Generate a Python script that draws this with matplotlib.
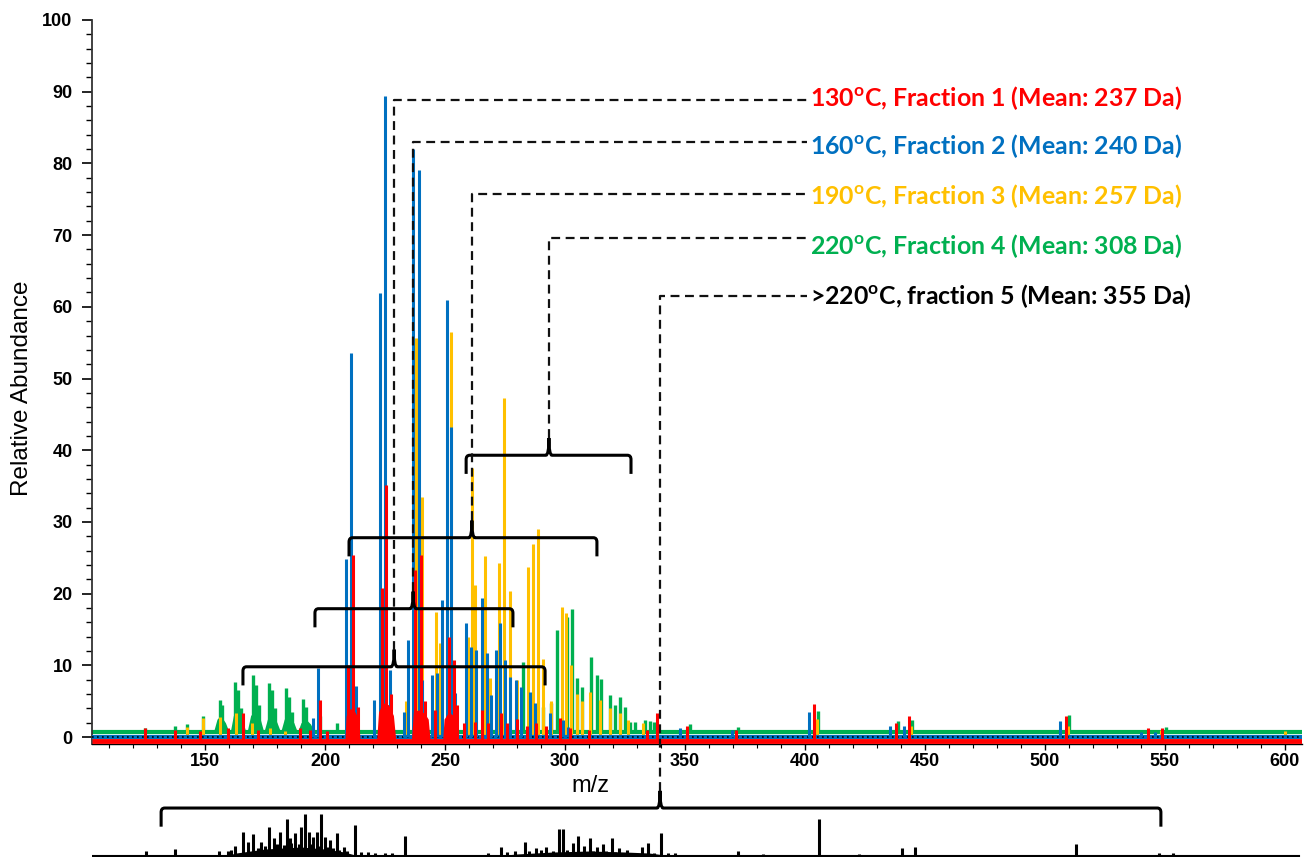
import matplotlib
matplotlib.use("Agg")
import matplotlib.pyplot as plt
from matplotlib.path import Path
from matplotlib.patches import PathPatch
from matplotlib.ticker import MultipleLocator

plt.rcParams['font.family'] = ['Liberation Sans', 'DejaVu Sans']
plt.rcParams['mathtext.fontset'] = 'custom'
plt.rcParams['mathtext.rm'] = 'Lato:bold'
plt.rcParams['mathtext.bf'] = 'Lato:bold'
plt.rcParams['mathtext.it'] = 'Lato:bold'

# ---- spectra (m/z, relative abundance) ----
green_mz = [119.6, 125.0, 137.5, 142.5, 149.2, 156.2, 157.1, 162.5, 163.8, 165.0,
            170.0, 171.2, 172.5, 176.7, 177.9, 179.2, 183.8, 185.0, 186.2, 190.8,
            192.1, 197.9, 205.0, 282.5, 290.8, 294.2, 296.7, 300.8, 302.9, 305.0,
            307.1, 310.8, 313.3, 315.0, 318.8, 320.8, 322.9, 325.0, 327.1, 329.2,
            333.3, 335.4, 337.1, 352.0, 372.0, 405.4, 438.8, 444.6, 510.0, 550.4]
green_h = [1.0, 1.2, 1.5, 1.8, 3.0, 5.2, 4.5, 7.7, 6.5, 4.0,
           8.6, 7.3, 4.5, 7.5, 6.5, 4.0, 6.8, 5.6, 3.5, 5.3,
           4.2, 3.0, 2.0, 10.5, 4.2, 4.7, 14.9, 16.7, 17.8, 8.2,
           7.0, 11.2, 8.6, 8.1, 5.9, 4.5, 5.6, 4.2, 2.1, 2.1,
           2.4, 2.2, 2.1, 1.8, 1.4, 3.6, 2.2, 2.4, 3.1, 1.4]

# broad bases under the low-mass green clusters
green_hump_mz = [[153.5, 155.0, 156.5, 158.5, 160.0],
                 [160.5, 161.8, 163.5, 165.5, 167.0],
                 [167.5, 169.0, 171.0, 173.0, 174.5],
                 [174.5, 176.0, 178.0, 180.0, 181.5],
                 [181.5, 183.0, 185.0, 187.0, 188.5],
                 [188.5, 190.0, 192.0, 194.0, 195.5]]
green_hump_h = [[0.7, 2.5, 3.0, 2.0, 0.7],
                [0.7, 3.0, 4.0, 2.5, 0.7],
                [0.7, 3.0, 3.8, 2.5, 0.7],
                [0.7, 2.5, 3.5, 2.0, 0.7],
                [0.7, 2.5, 3.0, 2.0, 0.7],
                [0.7, 2.0, 2.5, 1.8, 0.7]]

yellow_mz = [142.5, 149.2, 156.2, 162.9, 169.6, 177.0, 183.3, 233.6, 237.9, 240.4,
             246.2, 247.9, 252.4, 259.6, 261.1, 262.5, 266.7, 268.8, 272.5, 274.6,
             277.1, 280.0, 284.6, 286.7, 288.8, 290.8, 294.0, 298.8, 300.4, 302.5,
             305.0, 307.0, 310.4, 314.6, 318.8, 322.9, 326.2, 332.5, 351.0, 405.0,
             444.0, 509.5, 548.5, 600.0]
yellow_h = [1.4, 2.6, 2.8, 3.3, 2.0, 1.2, 0.9, 5.0, 55.6, 33.5,
            17.4, 13.1, 56.5, 14.0, 37.5, 21.2, 25.2, 8.2, 24.3, 47.3,
            20.4, 8.0, 23.7, 26.9, 29.0, 10.9, 5.0, 18.1, 17.3, 10.0,
            6.0, 5.0, 6.3, 5.2, 4.0, 3.3, 2.4, 2.0, 1.2, 2.5,
            1.5, 1.5, 1.0, 0.8]

blue_mz = [195.0, 197.1, 208.8, 210.8, 212.9, 220.4, 222.9, 225.0, 227.1, 232.9,
           234.6, 236.7, 239.2, 240.4, 244.6, 246.7, 248.8, 250.8, 252.5, 254.2,
           258.8, 260.8, 262.9, 265.4, 267.5, 269.2, 271.2, 272.9, 275.0, 277.1,
           279.6, 281.7, 285.4, 287.5, 293.8, 299.2, 301.2, 347.9, 369.6, 401.5,
           435.4, 441.3, 506.2, 540.0, 545.8]
blue_h = [2.6, 9.6, 24.8, 53.6, 7.1, 5.2, 61.9, 89.4, 9.3, 3.5,
          13.5, 82.0, 79.1, 8.0, 8.6, 8.9, 19.1, 61.0, 43.2, 6.1,
          15.9, 12.6, 12.1, 19.4, 11.7, 5.9, 12.1, 15.9, 10.7, 8.4,
          8.0, 7.0, 6.3, 4.7, 3.3, 2.4, 1.4, 1.2, 1.0, 3.5,
          1.5, 1.5, 2.3, 0.7, 0.7]

red_mz = [125.0, 137.5, 148.0, 159.6, 165.8, 172.0, 189.6, 193.8, 197.9, 200.8,
          209.6, 211.7, 213.8, 223.8, 225.4, 227.5, 237.5, 239.9, 241.5, 246.0,
          251.7, 253.8, 255.0, 258.0, 262.5, 265.4, 268.0, 273.3, 276.0, 280.0,
          284.0, 288.0, 292.0, 297.9, 302.0, 310.0, 334.0, 338.3, 350.8, 371.2,
          403.8, 437.9, 443.3, 508.8, 542.9, 548.8]
red_h = [1.2, 1.0, 0.8, 1.2, 3.3, 1.0, 1.3, 1.0, 5.2, 0.8,
         10.0, 25.4, 4.2, 20.8, 35.1, 6.0, 23.3, 25.4, 5.0, 3.8,
         14.0, 10.7, 4.5, 2.0, 2.1, 3.8, 2.0, 3.3, 2.0, 2.5,
         1.5, 2.0, 1.5, 2.6, 1.2, 1.0, 1.0, 3.3, 1.5, 1.0,
         4.6, 2.0, 3.0, 3.0, 1.2, 1.2]

# broad unresolved humps under the red clusters
red_hump_mz = [[208.3, 208.8, 210.5, 212.5, 214.0, 214.6],
               [221.5, 222.3, 224.0, 226.5, 228.5, 229.5],
               [236.0, 236.8, 239.0, 241.5, 243.0, 243.8],
               [249.0, 249.6, 251.5, 253.5, 255.0, 255.6]]
red_hump_h = [[-0.5, 3.0, 4.0, 3.5, 2.5, -0.5],
              [-0.5, 3.5, 4.8, 4.5, 3.0, -0.5],
              [-0.5, 3.5, 3.8, 3.3, 2.5, -0.5],
              [-0.5, 2.5, 3.5, 3.0, 2.0, -0.5]]

# fraction 5, plotted underneath
black_mz = [125.4, 137.5, 155.8, 159.6, 160.8, 162.5, 165.8, 167.9, 170.0, 172.0,
            173.3, 175.0, 176.7, 178.8, 180.0, 181.2, 183.0, 184.2, 185.4, 186.0,
            187.5, 189.0, 190.0, 191.7, 193.3, 194.5, 195.0, 196.7, 197.5, 198.3,
            200.0, 201.0, 202.1, 203.5, 205.0, 206.0, 207.9, 209.0, 212.5, 215.0,
            218.0, 221.0, 225.0, 228.0, 233.3, 238.3, 267.9, 273.3, 276.0, 279.0,
            283.3, 285.0, 287.9, 290.0, 292.1, 295.0, 297.5, 299.2, 301.0, 303.3,
            305.4, 307.9, 310.4, 311.5, 313.3, 315.8, 317.0, 319.6, 321.0, 322.5,
            325.8, 328.0, 332.1, 334.6, 337.0, 340.0, 343.0, 346.0, 372.1, 382.5,
            405.8, 422.5, 440.4, 445.8, 512.9, 547.5, 553.3]
black_h = [5.0, 6.7, 5.0, 5.0, 6.0, 10.0, 23.7, 14.0, 22.0, 8.0,
           14.0, 10.0, 29.3, 17.7, 12.0, 24.3, 11.0, 36.7, 17.7, 13.0,
           23.3, 12.0, 29.3, 41.7, 24.3, 12.0, 19.3, 24.3, 10.0, 41.7,
           19.3, 9.0, 16.0, 8.0, 23.3, 6.0, 9.3, 5.0, 31.0, 4.0,
           4.0, 3.0, 3.0, 3.0, 20.0, 1.0, 3.0, 9.3, 4.0, 5.0,
           14.0, 5.0, 7.7, 6.0, 8.7, 5.0, 26.7, 26.7, 6.0, 12.7,
           20.3, 10.3, 18.0, 5.0, 9.3, 12.0, 5.0, 18.0, 4.0, 7.7,
           5.7, 3.0, 9.3, 12.7, 3.0, 23.3, 3.0, 3.0, 5.0, 2.0,
           36.7, 2.0, 7.7, 8.7, 12.0, 3.3, 2.7]

# low continuum under the dense black clusters
black_hump_mz = [[158.0, 163.0, 175.0, 190.0, 200.0, 208.0, 214.0],
                 [270.0, 280.0, 295.0, 310.0, 325.0, 335.0, 345.0]]
black_hump_h = [[0.0, 3.0, 7.0, 9.0, 7.0, 4.0, 0.0],
                [0.0, 2.0, 4.0, 5.0, 4.0, 3.0, 0.0]]

# ---- fraction annotations ----
frac_labels = ["130$^{\\mathrm{o}}$C, Fraction 1 (Mean: 237 Da)",
               "160$^{\\mathrm{o}}$C, Fraction 2 (Mean: 240 Da)",
               "190$^{\\mathrm{o}}$C, Fraction 3 (Mean: 257 Da)",
               "220$^{\\mathrm{o}}$C, Fraction 4 (Mean: 308 Da)",
               ">220$^{\\mathrm{o}}$C, fraction 5 (Mean: 355 Da)"]
frac_colors = ['#FF0000', '#0070C0', '#FFC000', '#00B050', '#000000']
brace_left = [165.8, 195.8, 210.0, 258.8, 131.7]
brace_right = [291.7, 278.3, 313.3, 327.5, 548.3]
brace_tip = [228.8, 236.7, 261.2, 293.3, 339.6]
brace_y = [9.8, 17.9, 27.8, 39.3, -9.9]
dash_y = [88.8, 83.0, 75.7, 69.6, 61.5]
label_y = [89.1, 82.4, 75.5, 68.5, 61.5]
label_x = 402.0

GREEN, YELLOW, BLUE, RED = '#00B050', '#FFC000', '#0070C0', '#FF0000'

fig = plt.figure(figsize=(13.09, 8.57), dpi=100)
ax = fig.add_axes([92 / 1309, 113.5 / 857, 1210 / 1309, 723.5 / 857])
ax2 = fig.add_axes([92 / 1309, 0, 1210 / 1309, 100 / 857])
ax.set_zorder(2)
ax.patch.set_alpha(0)

xmin, xmax = 102.9, 607.1
ax.set_xlim(xmin, xmax)
ax.set_ylim(-0.9, 100)

# baselines, each trace slightly offset
ax.plot([xmin, xmax], [0.7, 0.7], color=GREEN, lw=3, zorder=1, solid_capstyle='butt')
ax.plot([xmin, xmax], [0.0, 0.0], color=YELLOW, lw=2.5, zorder=2, solid_capstyle='butt')
ax.plot([xmin, xmax], [-0.05, -0.05], color=BLUE, lw=3, zorder=3, solid_capstyle='butt')
ax.plot([xmin, xmax], [-0.05, -0.05], color='black', lw=1.2, ls=(0, (1, 2)), zorder=3)
ax.plot([xmin, xmax], [-0.55, -0.55], color=RED, lw=3.5, zorder=4, solid_capstyle='butt')

ax.vlines(green_mz, 0.7, green_h, colors=GREEN, lw=2.4, zorder=1)
for hx, hy in zip(green_hump_mz, green_hump_h):
    ax.fill_between(hx, 0.7, hy, color=GREEN, lw=0, zorder=1)
ax.vlines(yellow_mz, 0.0, yellow_h, colors=YELLOW, lw=2.2, zorder=2)
ax.vlines(blue_mz, 0.0, blue_h, colors=BLUE, lw=2.2, zorder=3)
ax.vlines(red_mz, -0.5, red_h, colors=RED, lw=2.2, zorder=4)
for hx, hy in zip(red_hump_mz, red_hump_h):
    ax.fill_between(hx, -0.5, hy, color=RED, lw=0, zorder=4)


def brace(ax, x0, x1, xt, y, drop=2.6, rise=2.4, r=1.5):
    verts = [(x0, y - drop), (x0, y - 0.6), (x0, y), (x0 + r, y),
             (xt - 1.3, y), (xt, y), (xt, y + rise), (xt, y), (xt + 1.3, y),
             (x1 - r, y), (x1, y), (x1, y - 0.6), (x1, y - drop)]
    codes = [Path.MOVETO, Path.LINETO, Path.CURVE3, Path.CURVE3,
             Path.LINETO, Path.CURVE3, Path.CURVE3, Path.CURVE3, Path.CURVE3,
             Path.LINETO, Path.CURVE3, Path.CURVE3, Path.LINETO]
    ax.add_patch(PathPatch(Path(verts, codes), fc='none', ec='black', lw=2.2,
                           zorder=6, clip_on=False))


for i in range(5):
    brace(ax, brace_left[i], brace_right[i], brace_tip[i], brace_y[i])
    ax.plot([brace_tip[i], brace_tip[i], label_x - 1.0],
            [brace_y[i] + 2.4, dash_y[i], dash_y[i]],
            color='#111111', lw=1.6, ls=(0, (4, 2.5)), zorder=7, clip_on=False)
    ax.text(label_x, label_y[i], frac_labels[i], color=frac_colors[i],
            fontsize=17.9, family='Lato', weight='bold', ha='left', va='center',
            zorder=8)

# axes styling
for s in ['top', 'right']:
    ax.spines[s].set_visible(False)
ax.spines['left'].set_linewidth(1.3)
ax.spines['left'].set_color('#333333')
ax.spines['bottom'].set_linewidth(1.0)
ax.xaxis.set_major_locator(MultipleLocator(50))
ax.xaxis.set_minor_locator(MultipleLocator(10))
ax.yaxis.set_major_locator(MultipleLocator(10))
ax.yaxis.set_minor_locator(MultipleLocator(2))
ax.set_xticks(range(150, 601, 50))
ax.tick_params(axis='y', which='major', length=7, width=1.2, pad=7, labelsize=13)
ax.tick_params(axis='y', which='minor', length=4, width=1.0)
ax.tick_params(axis='x', which='major', length=4, width=1.0, pad=3, labelsize=13)
ax.tick_params(axis='x', which='minor', length=3, width=0.8)
for lab in ax.get_xticklabels() + ax.get_yticklabels():
    lab.set_fontweight('bold')

ax.set_ylabel("Relative Abundance", fontsize=17.5)
ax.yaxis.set_label_coords(-0.049, 0.491)
ax.set_xlabel("m/z", fontsize=17)
ax.xaxis.set_label_coords(0.4116, -0.044)

# lower trace (fraction 5)
ax2.set_xlim(xmin, xmax)
ax2.set_ylim(-1, 99)
ax2.axis('off')
ax2.plot([xmin, 606.0], [0, 0], color='black', lw=1.5)
for hx, hy in zip(black_hump_mz, black_hump_h):
    ax2.fill_between(hx, 0, hy, color='black', lw=0)
ax2.vlines(black_mz, 0, black_h, colors='black', lw=2.2)

fig.savefig("out.png", dpi=100)
